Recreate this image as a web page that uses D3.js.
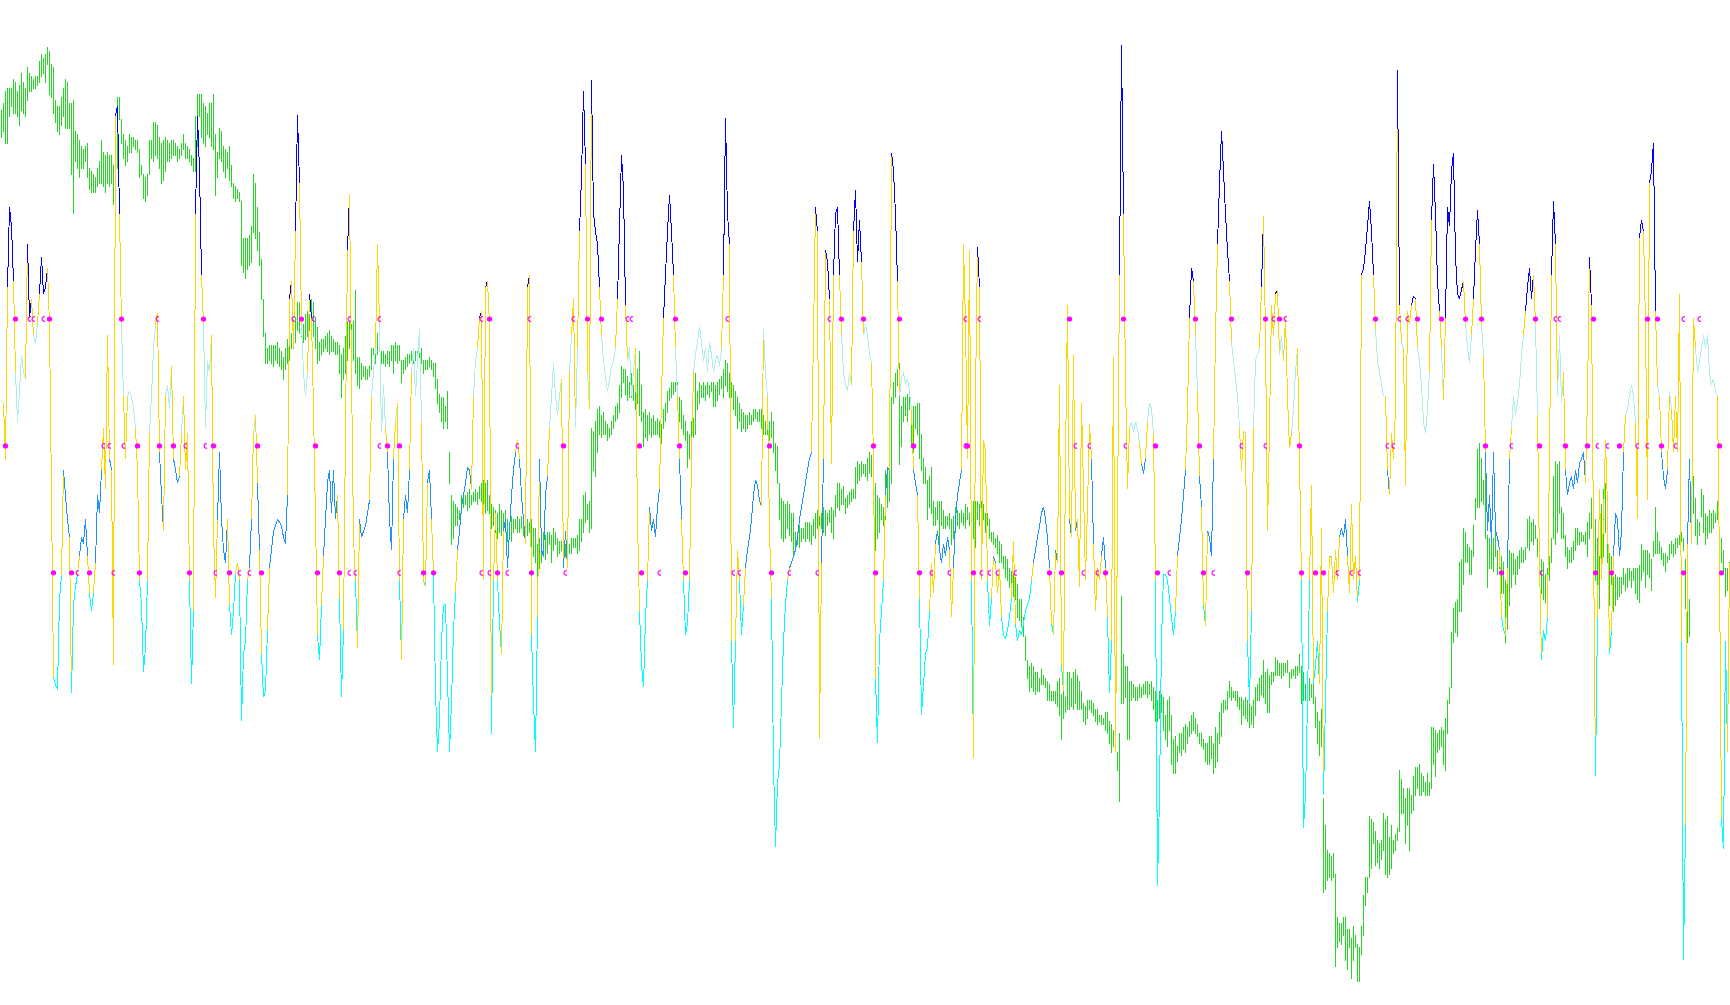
<!DOCTYPE html>
<html><head><meta charset="utf-8">
<script src="https://cdn.jsdelivr.net/npm/d3@7"></script>
<style>html,body{margin:0;padding:0;background:#fff;overflow:hidden}</style>
</head><body>
<svg id="chart" width="1730" height="1005"></svg>
<script>
// ---- price bars (arbitrary price points) ----
const barHigh = [
1440,1450,1470,1475,1475,1475,1490,1485,1470,1480,1500,1485,1475,1510,1500,1495,1490,1495,1495,1520,
1530,1525,1530,1542,1535,1515,1510,1455,1445,1445,1460,1475,1490,1485,1450,1450,1455,1405,1400,1390,
1380,1375,1380,1385,1345,1340,1335,1330,1345,1355,1390,1370,1365,1370,1365,1365,1350,1430,1460,1460,
1425,1400,1390,1380,1400,1395,1395,1390,1390,1375,1350,1335,1330,1335,1390,1390,1420,1420,1415,1395,
1385,1390,1395,1390,1385,1390,1390,1385,1380,1375,1385,1400,1385,1380,1375,1365,1360,1430,1465,1465,
1465,1450,1445,1435,1450,1450,1465,1400,1370,1410,1405,1380,1375,1370,1380,1350,1320,1315,1310,1305,
1290,1230,1230,1230,1235,1250,1335,1320,1280,1240,1195,1130,1075,1050,1055,1055,1055,1055,1060,1050,
1045,1035,1050,1065,1070,
1075,1090,1100,1125,1125,1100,1090,1105,1110,1105,1130,1125,1100,1085,1060,1065,1065,1070,1075,1080,
1070,1065,1060,1060,1055,1040,1050,1070,1095,1095,1090,1095,1145,1035,1035,1025,1020,1020,1015,1020,
1050,1050,1055,1075,1080,1045,1045,1040,1045,1045,1055,1055,1060,1055,1055,1030,1030,1035,1040,1040,
1045,1040,1045,1045,1050,1050,1030,1030,1030,1035,1030,1025,1025,1000,975,970,970,955,980,880,
810,800,795,790,785,810,815,810,815,820,810,815,820,815,825,830,835,830,835,810,
795,790,785,780,795,785,780,785,770,765,775,770,770,775,770,775,765,780,770,765,
770,755,755,730,740,750,750,745,750,750,745,755,750,740,735,735,740,730,730,730,
740,740,740,745,
770,770,810,815,795,800,920,915,930,950,955,940,945,930,925,920,930,940,955,960,
990,1020,1015,1015,1005,995,1010,990,1010,1015,1045,990,945,950,940,945,935,940,930,935,
930,925,950,960,980,985,995,995,995,995,970,965,940,930,915,910,930,935,1010,980,
995,990,995,990,995,990,995,995,990,995,1000,1005,1015,1030,1025,1010,995,990,980,970,
960,950,945,940,940,945,940,950,950,945,950,950,940,930,945,930,945,930,895,890,
830,805,800,795,800,795,780,780,750,750,760,755,755,765,765,765,760,770,780,785,
775,780,790,785,780,785,790,785,810,830,830,820,825,805,810,815,820,820,855,865,
860,865,860,860,
870,880,875,870,830,810,805,795,790,850,855,850,970,995,1010,1015,1025,955,970,970,
975,970,950,955,955,960,960,910,870,855,835,840,855,800,790,800,800,800,785,775,
775,780,770,775,790,785,780,785,780,795,790,780,780,800,800,800,795,800,795,780,
780,770,750,750,740,745,735,730,710,710,705,690,685,680,675,665,640,640,610,580,
540,530,535,530,520,520,510,525,515,510,505,500,490,490,490,505,510,485,495,480,
520,520,510,520,525,515,505,490,470,465,475,475,475,470,460,460,450,450,445,455,
455,440,435,425,450,390,420,645,550,530,530,505,505,500,495,495,500,495,500,505,
505,500,505,495,
490,475,490,485,480,450,475,480,450,410,415,400,420,420,430,435,430,440,450,455,
445,435,420,420,410,405,405,415,415,405,430,420,455,470,475,475,490,505,495,490,
490,490,480,480,475,480,475,470,465,475,495,500,510,515,540,520,525,515,520,520,
545,540,535,535,535,535,540,520,525,525,530,530,550,530,520,500,505,510,500,510,
480,455,440,460,315,270,230,225,220,225,190,120,110,110,120,120,100,100,85,105,
90,75,70,105,155,185,185,285,280,275,260,245,240,245,290,280,285,250,270,245,
255,265,360,345,330,315,330,330,320,350,365,365,370,355,350,340,355,340,430,430,
425,420,425,430,
425,445,475,495,585,625,635,640,700,705,755,750,730,725,720,760,805,885,895,870,
835,850,745,740,740,740,750,720,715,710,700,670,690,720,715,715,705,710,720,725,
720,725,770,775,765,770,760,740,710,705,700,680,690,710,740,840,865,860,865,790,
780,745,725,720,725,735,755,755,750,750,745,750,765,780,805,780,770,740,710,795,
820,830,770,715,710,675,680,675,675,675,690,680,690,690,685,690,690,690,695,730,
720,720,720,715,705,735,790,750,735,725,715,715,710,730,735,730,740,740,745,750,
740,705,690,640,815,840,805,770,765,820,810,780,775,785,780,785,780,800,735,740,
720,690,690,700
];
const barLow = [
1395,1405,1385,1385,1430,1445,1435,1435,1430,1415,1440,1435,1430,1455,1470,1470,1475,1475,1480,1485,
1495,1500,1485,1515,1465,1460,1435,1420,1405,1400,1415,1430,1410,1410,1410,1335,1270,1355,1345,1330,
1345,1345,1355,1330,1310,1305,1305,1305,1315,1320,1320,1315,1305,1320,1315,1320,1285,1330,1345,1425,
1385,1360,1350,1355,1370,1370,1380,1375,1370,1330,1335,1295,1290,1300,1335,1360,1355,1365,1360,1345,
1320,1325,1340,1355,1355,1360,1365,1365,1355,1360,1365,1375,1360,1360,1355,1350,1340,1340,1380,1430,
1395,1385,1380,1400,1395,1380,1375,1300,1330,1360,1355,1340,1330,1345,1325,1315,1295,1290,1295,1290,
1185,1175,1165,1180,1185,1190,1240,1230,1210,1185,1130,1070,1025,1025,1030,1025,1020,1030,1025,1020,
1015,1000,1015,1025,1030,
1050,1050,1060,1080,1075,1070,1060,1065,1070,1080,1090,1070,1050,1025,1030,1040,1045,1050,1045,1040,
1045,1045,1040,1040,1010,970,1000,1010,1030,1050,1000,1030,1010,990,985,1000,1005,1000,1000,1005,
1015,1040,1025,1040,1045,1025,1025,1020,1025,1020,1030,1010,1030,1025,1030,995,1010,1015,1020,1025,
1030,1025,1030,1025,1035,1025,1010,1015,1015,1020,1015,1005,985,960,945,930,920,930,920,830,
730,740,760,760,770,780,790,795,785,790,795,800,800,795,805,800,795,780,785,780,
755,760,750,740,750,745,740,750,735,740,735,750,755,750,750,755,745,740,745,750,
725,710,700,675,690,700,710,705,715,730,700,720,730,710,715,720,720,710,710,715,
715,725,725,715,
720,735,750,765,770,750,755,850,840,880,910,905,910,910,900,905,910,920,930,935,
945,970,995,975,965,970,970,965,950,960,940,930,890,905,900,910,905,910,910,910,
905,895,920,930,945,965,970,975,980,970,930,920,910,900,855,870,890,905,910,950,
960,970,970,965,975,970,980,955,955,965,975,985,970,990,980,970,970,950,940,920,
930,915,920,915,920,925,925,930,935,930,930,920,910,910,910,900,905,880,850,830,
770,740,735,740,755,745,735,710,720,730,725,735,740,735,740,735,730,745,740,755,
760,755,750,745,760,765,750,740,775,790,785,795,795,780,790,795,800,805,805,830,
835,840,845,840,
835,845,840,830,720,740,750,770,760,770,790,800,830,960,970,990,860,890,930,940,
930,950,890,880,920,910,870,850,830,830,770,790,780,760,760,770,720,760,755,755,
760,755,730,740,750,760,755,765,760,755,770,760,730,740,725,770,760,750,770,750,
760,740,735,730,725,715,700,700,690,675,670,660,650,645,640,610,605,595,580,540,
510,490,495,490,485,490,490,500,500,495,475,475,475,475,470,465,450,410,445,455,
460,460,465,460,470,460,460,460,440,435,445,460,455,450,440,435,440,435,435,425,
420,405,390,400,410,360,310,470,470,480,410,410,475,480,475,475,480,480,485,485,
480,485,475,460,
440,440,445,455,425,410,400,425,370,355,355,375,390,385,395,390,405,415,420,425,
420,415,405,400,395,375,370,370,380,355,365,375,405,415,455,460,460,480,475,480,
475,465,460,435,450,445,440,430,435,430,450,475,475,485,480,470,455,455,500,505,
515,515,515,510,515,520,520,495,510,515,510,515,520,470,475,475,485,475,480,470,
430,405,385,400,160,165,180,185,180,185,40,70,80,75,90,50,35,70,20,50,
70,15,15,60,90,140,160,185,200,240,205,210,200,215,230,190,185,190,200,225,
230,245,260,290,290,240,270,230,290,295,320,330,320,320,325,320,320,320,330,370,
350,390,395,400,
370,360,420,470,495,570,585,580,620,620,665,700,700,680,680,710,770,790,790,800,
795,740,660,690,690,685,710,680,690,650,650,570,590,630,660,680,665,680,690,700,
700,705,725,720,735,730,740,710,680,650,640,635,655,670,700,740,730,750,780,740,
740,710,690,700,700,705,720,730,730,735,735,730,710,740,755,690,670,650,625,700,
710,750,700,630,665,620,630,640,645,650,665,655,660,670,660,670,650,640,635,670,
685,660,680,675,655,710,715,715,715,705,695,685,700,705,715,710,715,725,730,735,
720,625,570,580,740,780,745,730,745,775,750,730,740,750,750,755,765,770,690,700,
680,645,655,670
];
// ---- oscillator (CCI-like), one value per bar ----
const cci = [
36,34,-11,125,188,173,130,58,19,43,72,58,53,159,101,116,87,80,96,120,
149,120,125,140,96,-39,-182,-188,-192,-121,-102,-19,-39,-58,-72,-195,-125,-111,-101,-87,
-72,-77,-58,-87,-116,-130,-116,-92,-39,-53,-19,14,-34,87,-10,-19,-173,260,268,183,
96,39,-10,39,43,39,29,14,-19,-106,-125,-178,-159,-106,10,39,77,96,105,-5,
-39,-67,39,48,29,63,-10,-19,-29,-24,10,39,-19,10,-106,-188,-130,183,260,217,
135,96,14,67,58,87,-67,-120,-58,-5,-58,-82,-92,-58,-125,-149,-130,-101,-92,-106,
-217,-164,-154,-106,-96,-58,10,24,-29,-82,-164,-198,-193,-145,-96,-82,-67,-63,-58,-60,
-63,-72,-77,-39,116,
130,77,169,261,207,96,58,39,58,120,101,29,-58,-149,-169,-125,-87,-58,-29,-19,
-53,-19,-58,-39,-120,-198,-145,14,154,198,58,-72,-106,-159,-58,-72,-67,-63,-53,-43,
39,58,77,159,96,10,48,14,-5,-58,-82,-10,19,34,-106,-169,-58,-39,-53,-19,
58,77,39,67,92,19,-106,-111,-29,-19,-58,-101,-193,-241,-217,-154,-125,-125,-183,-241,
-202,-145,-116,-82,-67,-48,-39,-29,-17,-19,-34,39,67,77,101,106,-106,125,130,96,
-227,-106,-53,-106,-140,-164,-67,-58,-96,-67,-39,-19,-5,5,-10,-39,-58,-77,125,135,
-149,-202,-241,-135,-10,-82,-87,-39,-24,14,39,65,39,24,39,53,-96,-67,-96,58,
87,116,14,77,
169,212,280,222,58,29,288,183,169,159,125,87,67,53,43,53,63,67,77,116,
173,229,202,111,67,77,39,58,77,-58,-130,-173,-190,-135,-106,-48,-67,-58,-72,-48,
-34,39,101,135,169,198,169,135,77,39,-10,-58,-106,-149,-140,-106,-10,58,72,82,
94,82,67,77,58,82,72,58,67,72,63,77,135,258,183,159,-154,-222,-154,-82,
-106,-149,-125,-96,-82,-72,-58,-39,-27,-31,-43,-48,92,58,39,-67,-120,-251,-316,-265,
-251,-202,-154,-125,-106,-96,-92,-87,-82,-72,-58,-48,-39,-29,-19,-10,-5,87,188,169,
-231,-92,-10,154,145,116,-14,135,183,188,135,87,58,48,43,58,48,169,202,145,
178,145,87,96,
87,72,65,-10,-183,-234,-154,-130,-106,-39,-17,-19,231,217,183,130,39,53,58,48,
53,43,29,-19,-29,-39,-120,-212,-188,-164,-159,-130,-92,-116,-77,-67,-82,-92,-77,-87,
-72,-82,-135,-96,-58,-39,-29,-19,159,96,-10,154,-106,-246,39,157,125,-106,5,-5,
-106,-142,-120,-87,-92,-116,-96,-135,-149,-152,-145,-135,-120,-75,-140,-154,-145,-149,-140,-130,
-125,-120,-106,-92,-82,-72,-63,-53,-48,-58,-72,-96,-140,-149,-82,-92,48,-173,-193,-10,
111,-58,-72,72,-67,-58,-111,34,-34,-106,-48,17,-10,-77,-130,-96,-106,-87,-72,-96,
-135,-195,-154,70,-241,-58,135,316,183,53,-34,14,19,10,19,14,2,-14,-22,-10,
19,34,29,10,
-106,-347,-275,-154,-101,-101,-106,-120,-135,-149,-130,-87,-72,-58,-39,-19,29,101,140,130,
87,43,-24,-48,-125,-142,-67,-72,-87,-10,87,159,207,248,217,183,154,130,82,67,
53,39,14,-19,12,10,-154,-202,-130,14,67,72,77,125,181,87,-67,14,111,87,
120,123,72,87,67,101,39,-2,10,29,58,77,-10,-106,-301,-275,-202,-106,-31,-188,
-173,-154,-188,-65,-275,-202,-130,-87,-87,-116,-82,-106,-72,-65,-72,-58,-87,-116,-46,-106,
-87,-123,-106,135,140,154,173,193,169,135,92,67,58,48,39,39,-19,-39,10,-10,
29,296,111,82,77,-31,106,96,111,118,116,77,67,48,19,10,29,58,178,222,
183,130,106,77,
36,101,188,173,217,231,149,120,116,123,130,96,77,65,87,116,154,186,159,96,
72,-5,-67,-39,-77,-5,-67,-72,-82,-135,-145,-149,-96,-10,14,39,24,34,48,72,
87,106,125,140,116,135,96,24,-92,-169,-145,-154,-135,-5,135,193,159,39,87,34,
58,-19,-39,-29,-24,-34,-19,-29,-14,-10,-5,-29,39,149,111,-72,-260,-135,-34,-106,
-58,5,-48,-164,-145,-87,-53,-58,-87,-67,-5,24,29,39,48,39,19,-58,164,178,
169,96,-43,207,217,239,106,48,39,-5,-24,-34,-19,43,29,-5,39,-5,120,-154,
-405,-299,-77,-10,-77,101,77,58,67,77,87,77,87,58,48,53,43,39,-96,-294,
-318,-154,-241,-92
];
const levels = [100, 0, -100];
// signal markers: [bar, filled(1) / hollow(0)]
const upperSignals = [[7,1],[14,0],[16,0],[21,0],[24,1],[60,1],[78,0],[101,1],[146,0],[150,1],[156,0],[174,0],[189,0],[240,0],[244,1],[264,0],[286,0],[293,1],[300,1],[313,0],[315,0],[337,1],[363,0],[414,0],[420,1],[431,1],[449,1],[482,0],[489,0],[534,1],[561,1],[597,1],[615,1],[632,1],[636,0],[639,1],[642,0],[687,1],[699,0],[703,0],[708,1],[720,1],[732,1],[740,1],[767,1],[777,0],[779,0],[796,1],[823,1],[828,1],[841,0],[849,0]];
const zeroSignals = [[2,1],[51,0],[54,0],[61,0],[68,1],[79,1],[86,1],[92,0],[102,0],[106,1],[128,1],[157,1],[189,0],[193,1],[199,1],[258,0],[281,1],[319,1],[339,1],[384,1],[436,1],[456,1],[482,0],[483,1],[537,0],[544,0],[562,0],[577,1],[599,1],[620,0],[632,0],[649,1],[693,0],[696,0],[742,1],[755,0],[769,1],[782,1],[793,1],[798,0],[803,0],[809,1],[818,0],[823,0],[830,1],[837,0],[859,1]];
const lowerSignals = [[26,1],[35,1],[38,0],[44,1],[56,0],[69,1],[94,1],[107,0],[114,1],[119,0],[124,0],[130,1],[158,1],[169,1],[174,0],[177,0],[199,0],[211,1],[216,1],[240,0],[244,0],[248,1],[253,0],[265,1],[282,0],[320,1],[329,0],[342,1],[366,0],[369,0],[385,1],[394,0],[408,0],[437,1],[459,1],[465,0],[474,0],[486,1],[490,0],[494,0],[498,0],[507,0],[524,1],[530,1],[541,0],[548,0],[552,1],[578,1],[584,0],[601,1],[606,0],[623,1],[650,1],[657,1],[661,1],[668,0],[675,0],[679,0],[750,1],[770,0],[797,1],[805,1],[841,1],[860,1]];

const COL = {price:'#1FD81F', above:'#0000FF', pos:'#AFEEEE', neg:'#1E90FF', below:'#00FFFF', cross:'#FFD700', mark:'#FF00FF'};

const svg = d3.select('#chart');
const nBars = Math.min(barHigh.length, barLow.length);
const nOsc = cci.length;
const x = d3.scaleLinear().domain([0, 864]).range([1.5, 1729.5]);
const yPrice = d3.scaleLinear().domain([0, 1570]).range([990.24, 30]);
const yOsc = d3.scaleLinear().domain([-100, 100]).range([572.8, 319]);

// price bars
svg.append('g').attr('shape-rendering','crispEdges')
  .selectAll('line').data(d3.range(nBars)).join('line')
  .attr('x1', i => x(i)).attr('x2', i => x(i))
  .attr('y1', i => yPrice(barHigh[i])).attr('y2', i => yPrice(barLow[i]) + 1)
  .attr('stroke', COL.price).attr('stroke-width', 1);

// oscillator segments coloured by zone; level-crossing segments in gold
function segColor(a, b) {
  for (const L of levels) if ((a - L) * (b - L) < 0) return COL.cross;
  const m = (a + b) / 2;
  if (m > 100) return COL.above;
  if (m >= 0) return COL.pos;
  if (m >= -100) return COL.neg;
  return COL.below;
}
const segs = d3.range(1, nOsc).map(i => ({i, a: cci[i-1], b: cci[i]}));
svg.append('g').attr('shape-rendering','crispEdges')
  .selectAll('line').data(segs).join('line')
  .attr('x1', d => x(d.i - 1)).attr('x2', d => x(d.i))
  .attr('y1', d => yOsc(d.a)).attr('y2', d => yOsc(d.b))
  .attr('stroke', d => segColor(d.a, d.b)).attr('stroke-width', 1);

// signal markers: filled dots and open half-rings
const marks = [];
upperSignals.forEach(([b, f]) => marks.push({b, lv: 100, f}));
zeroSignals.forEach(([b, f]) => marks.push({b, lv: 0, f}));
lowerSignals.forEach(([b, f]) => marks.push({b, lv: -100, f}));
const mg = svg.append('g');
mg.selectAll('circle').data(marks.filter(d => d.f)).join('circle')
  .attr('cx', d => x(d.b)).attr('cy', d => yOsc(d.lv))
  .attr('r', 2.6).attr('fill', COL.mark);
mg.selectAll('path').data(marks.filter(d => !d.f)).join('path')
  .attr('transform', d => `translate(${x(d.b)},${yOsc(d.lv)})`)
  .attr('d', 'M1.5,-2.2 A2.3,2.3 0 1,0 1.5,2.2')
  .attr('fill', 'none').attr('stroke', COL.mark).attr('stroke-width', 1.2);
</script>
</body></html>
